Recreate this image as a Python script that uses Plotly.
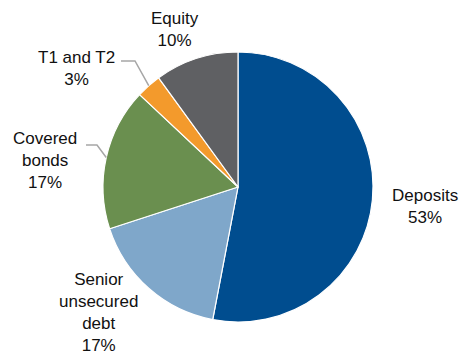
import math
import plotly.graph_objects as go

# Funding mix (share of total, %)
categories = ["Deposits", "Senior unsecured debt", "Covered bonds", "T1 and T2", "Equity"]
shares = [53, 17, 17, 3, 10]
label_text = ["Deposits", "Senior<br>unsecured<br>debt", "Covered<br>bonds", "T1 and T2", "Equity"]
colors = ["#004D8F", "#7FA7CA", "#6A8F4F", "#F39A2C", "#5F6063"]

W, H = 463, 358
cx, cy, R = 238, 187, 135  # pie centre and radius in pixels (from top-left)


def px(x):
    return x / W


def py(y):
    return 1 - y / H


fig = go.Figure(
    go.Pie(
        labels=categories,
        values=shares,
        sort=False,
        direction="clockwise",
        rotation=0,
        textinfo="none",
        hoverinfo="label+percent",
        marker=dict(colors=colors, line=dict(color="white", width=1.2)),
        domain=dict(x=[px(cx - R), px(cx + R)], y=[py(cy + R), py(cy - R)]),
        showlegend=False,
    )
)

# label block centres (pixels)
label_pos = {
    "Deposits": (425, 206),
    "Senior unsecured debt": (98, 312),
    "Covered bonds": (45, 160),
    "T1 and T2": (76, 68),
    "Equity": (175, 30),
}
# elbow points of the leader lines for the small slices
leader_elbow = {
    "Covered bonds": [(86, 145), (97, 145)],
    "T1 and T2": [(121, 61), (135, 61)],
}

annotations = []
shapes = []
total = sum(shares)
cum = 0
for cat, val, txt in zip(categories, shares, label_text):
    mid = (cum + val / 2) / total * 2 * math.pi
    cum += val
    lx, ly = label_pos[cat]
    annotations.append(
        dict(
            x=px(lx), y=py(ly), xref="paper", yref="paper",
            text=f"{txt}<br>{round(val / total * 100)}%",
            showarrow=False, xanchor="center", yanchor="middle",
            font=dict(family="Liberation Sans, Arial, sans-serif", size=17, color="#111111"),
        )
    )
    if cat in leader_elbow:
        ex = cx + R * math.sin(mid)
        ey = cy - R * math.cos(mid)
        pts = leader_elbow[cat] + [(ex, ey)]
        path = "M " + " L ".join(f"{px(x):.5f},{py(y):.5f}" for x, y in pts)
        shapes.append(
            dict(type="path", xref="paper", yref="paper", path=path,
                 line=dict(color="#A6A6A6", width=1.5))
        )

fig.update_layout(
    width=W, height=H,
    margin=dict(l=0, r=0, t=0, b=0),
    paper_bgcolor="white",
    plot_bgcolor="white",
    annotations=annotations,
    shapes=shapes,
)

fig.write_html("out.html")
